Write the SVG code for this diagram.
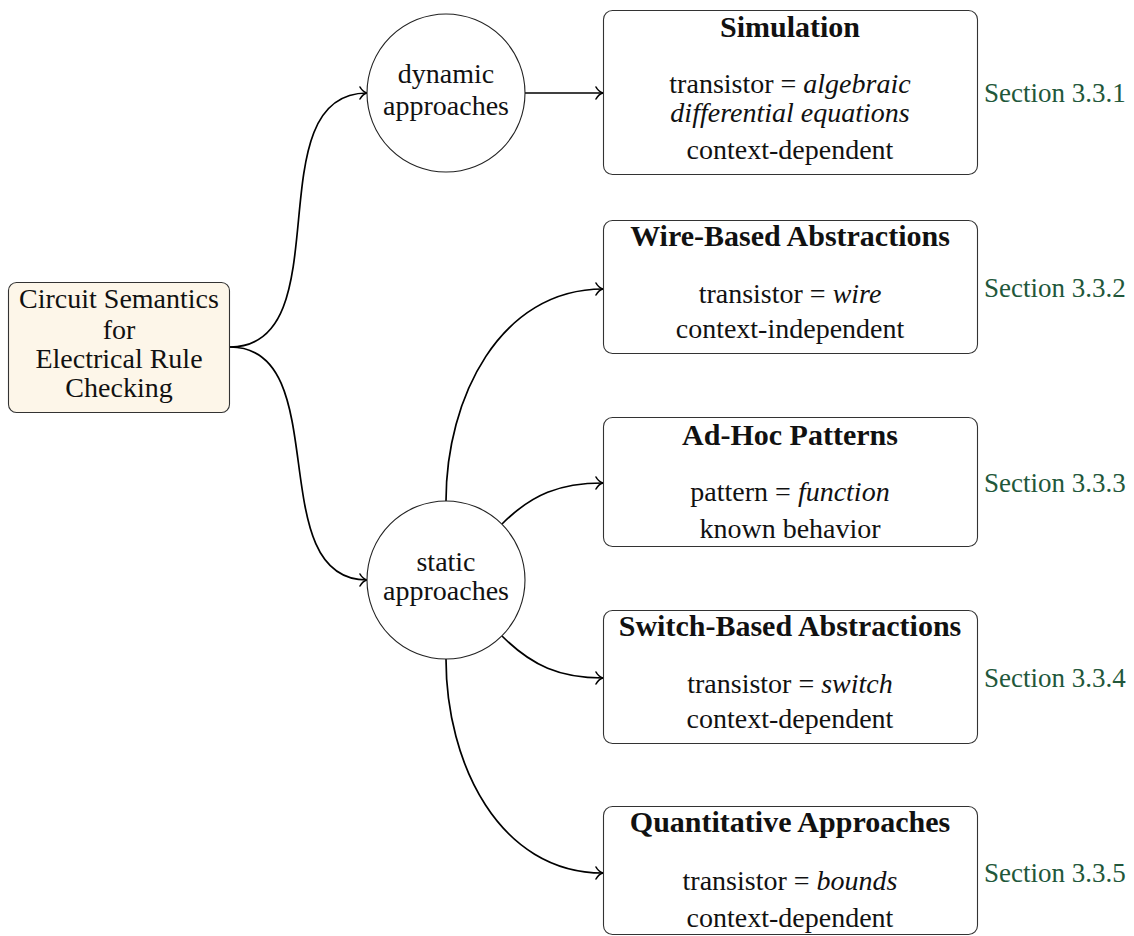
<svg xmlns="http://www.w3.org/2000/svg" width="1134" height="936" viewBox="0 0 1134 936" font-family="Liberation Serif, serif" font-size="28">
  <defs>
    <style>
      text { fill: #111; text-anchor: middle; }
      .title { font-weight: bold; font-size: 30px; }
      .it { font-style: italic; }
      .sec { fill: #22573a; text-anchor: start; font-size: 27px; }
      .box { fill: #fff; stroke: #333; stroke-width: 1.1; }
      .root { fill: #fdf6e9; stroke: #333; stroke-width: 1.1; }
      .circ { fill: #fff; stroke: #222; stroke-width: 1.1; }
      .edge { fill: none; stroke: #000; stroke-width: 1.7; marker-end: url(#arr); }
    </style>
    <!-- open "to"-style arrow tip -->
    <marker id="arr" viewBox="-10 -8 12 16" refX="0" refY="0" markerWidth="12" markerHeight="16" markerUnits="userSpaceOnUse" orient="auto" overflow="visible">
      <path d="M-7,-6 C-5,-2.2 -2,-0.6 0,0 C-2,0.6 -5,2.2 -7,6" fill="none" stroke="#000" stroke-width="1.6" stroke-linecap="round"/>
    </marker>
  </defs>
  <rect width="1134" height="936" fill="#fff"/>

  <!-- connectors -->
  <g id="connectors">
    <path class="edge" d="M230,347 C343,347 254,93 367,93"/>
    <path class="edge" d="M230,347 C336,347 261,580 367,580"/>
    <path class="edge" d="M525,93 L603,93"/>
    <path class="edge" d="M446,501 C446,398 500,289 603,289"/>
    <path class="edge" d="M502,524 C532,494 560,483 603,483"/>
    <path class="edge" d="M502,636 C532,666 560,678 603,678"/>
    <path class="edge" d="M446,659 C446,763 499,873 603,873"/>
  </g>

  <!-- root node -->
  <g id="root">
    <rect class="root" x="8.5" y="282.5" width="221" height="130" rx="8"/>
    <text x="119" y="308">Circuit Semantics</text>
    <text x="119" y="339">for</text>
    <text x="119" y="368">Electrical Rule</text>
    <text x="119" y="397">Checking</text>
  </g>

  <!-- approach categories -->
  <g id="dynamic">
    <circle class="circ" cx="446" cy="93" r="79"/>
    <text x="446" y="83">dynamic</text>
    <text x="446" y="115">approaches</text>
  </g>
  <g id="static">
    <circle class="circ" cx="446" cy="580" r="79"/>
    <text x="446" y="571">static</text>
    <text x="446" y="600">approaches</text>
  </g>

  <!-- leaf techniques -->
  <g id="simulation">
    <rect class="box" x="603.5" y="10.5" width="374" height="164" rx="9"/>
    <text class="title" x="790" y="37">Simulation</text>
    <text x="790" y="93">transistor = <tspan class="it">algebraic</tspan></text>
    <text class="it" x="790" y="122">differential equations</text>
    <text x="790" y="159">context-dependent</text>
  </g>
  <g id="wire">
    <rect class="box" x="603.5" y="220.5" width="374" height="133" rx="9"/>
    <text class="title" x="790" y="246">Wire-Based Abstractions</text>
    <text x="790" y="303">transistor = <tspan class="it">wire</tspan></text>
    <text x="790" y="338">context-independent</text>
  </g>
  <g id="adhoc">
    <rect class="box" x="603.5" y="417.5" width="374" height="129" rx="9"/>
    <text class="title" x="790" y="445">Ad-Hoc Patterns</text>
    <text x="790" y="501">pattern = <tspan class="it">function</tspan></text>
    <text x="790" y="538">known behavior</text>
  </g>
  <g id="switch">
    <rect class="box" x="603.5" y="610.5" width="374" height="133" rx="9"/>
    <text class="title" x="790" y="636">Switch-Based Abstractions</text>
    <text x="790" y="693">transistor = <tspan class="it">switch</tspan></text>
    <text x="790" y="728">context-dependent</text>
  </g>
  <g id="quantitative">
    <rect class="box" x="603.5" y="806.5" width="374" height="128" rx="9"/>
    <text class="title" x="790" y="832">Quantitative Approaches</text>
    <text x="790" y="890">transistor = <tspan class="it">bounds</tspan></text>
    <text x="790" y="927">context-dependent</text>
  </g>

  <!-- section references -->
  <g id="sections">
    <text class="sec" x="984" y="102">Section 3.3.1</text>
    <text class="sec" x="984" y="297">Section 3.3.2</text>
    <text class="sec" x="984" y="492">Section 3.3.3</text>
    <text class="sec" x="984" y="687">Section 3.3.4</text>
    <text class="sec" x="984" y="882">Section 3.3.5</text>
  </g>
</svg>
